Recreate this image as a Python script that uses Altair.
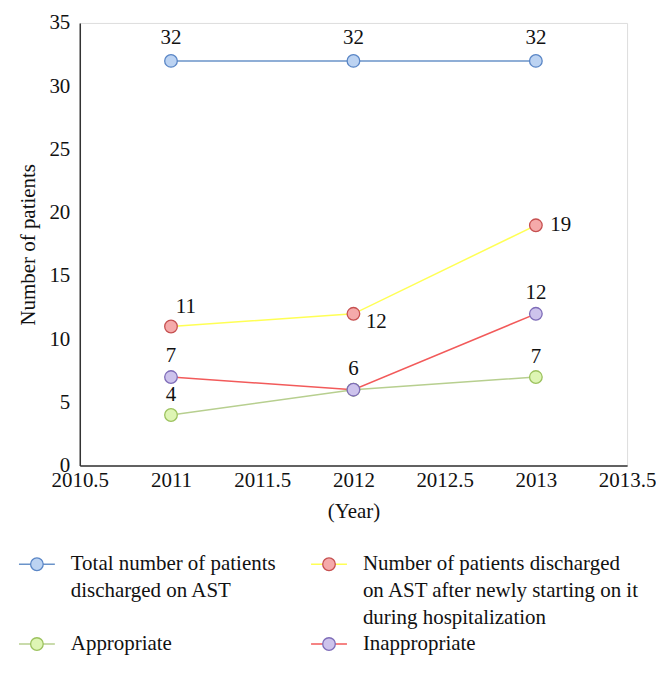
import altair as alt
import pandas as pd

years = [2011, 2012, 2013]
series = [
    "Total number of patients discharged on AST",
    "Number of patients discharged on AST after newly starting on it during hospitalization",
    "Appropriate",
    "Inappropriate",
]
total = [32, 32, 32]
newly = [11, 12, 19]
appropriate = [4, 6, 7]
inappropriate = [7, 6, 12]

legend_lines = [
    "Total number of patients\ndischarged on AST",
    "Number of patients discharged\non AST after newly starting on it\nduring hospitalization",
    "Appropriate",
    "Inappropriate",
]
legend_col = [0, 1, 0, 1]
legend_row = [0, 0, 1, 1]

line_colors = ["#6a93c9", "#ffff55", "#b7cf8f", "#f25a5a"]
marker_fills = ["#bcd3f2", "#f5aaaa", "#def5b4", "#cdc3ec"]
marker_strokes = ["#5a86c6", "#c65050", "#9cc25e", "#7e6cb8"]

FONT = "Liberation Serif, Times New Roman, serif"
FS = 21

rows = []
for name, vals in zip(series, [total, newly, appropriate, inappropriate]):
    for y, v in zip(years, vals):
        rows.append({"series": name, "year": y, "value": v})
df = pd.DataFrame(rows)

leg = pd.DataFrame({"series": series, "text": legend_lines, "col": legend_col, "row": legend_row})

line_scale = alt.Scale(domain=series, range=line_colors)
fill_scale = alt.Scale(domain=series, range=marker_fills)
stroke_scale = alt.Scale(domain=series, range=marker_strokes)

x_enc = alt.X(
    "year:Q",
    scale=alt.Scale(domain=[2010.5, 2013.5], nice=False, zero=False),
    axis=alt.Axis(
        values=[2010.5, 2011, 2011.5, 2012, 2012.5, 2013, 2013.5],
        format="~f", title="(Year)", grid=False, ticks=False,
        domainColor="#333333", domainWidth=1.5, labelPadding=4, titlePadding=10,
        labelFontSize=FS, titleFontSize=FS, labelFont=FONT, titleFont=FONT,
        titleFontWeight="normal", labelColor="#111111", titleColor="#111111",
        labelFlush=False, labelOverlap=False,
    ),
)
y_enc = alt.Y(
    "value:Q",
    scale=alt.Scale(domain=[0, 35], nice=False),
    axis=alt.Axis(
        values=[0, 5, 10, 15, 20, 25, 30, 35], title="Number of patients",
        grid=False, ticks=False, domainColor="#333333", domainWidth=1.5,
        labelPadding=10, titlePadding=10, labelFontSize=FS, titleFontSize=FS,
        labelFont=FONT, titleFont=FONT, titleFontWeight="normal",
        labelColor="#111111", titleColor="#111111", labelOverlap=False,
    ),
)

base = alt.Chart(df)

lines = base.mark_line(strokeWidth=1.5).encode(
    x=x_enc, y=y_enc,
    color=alt.Color("series:N", scale=line_scale, legend=None),
    detail="series:N",
)
points = base.mark_point(shape="circle", filled=True, size=160, strokeWidth=1.3, opacity=1).encode(
    x="year:Q", y="value:Q",
    fill=alt.Fill("series:N", scale=fill_scale, legend=None),
    stroke=alt.Stroke("series:N", scale=stroke_scale, legend=None),
)


def label_layer(filt, dx, dy):
    return base.transform_filter(filt).mark_text(
        dx=dx, dy=dy, font=FONT, fontSize=FS, color="#111111", align="center", baseline="middle"
    ).encode(x="year:Q", y="value:Q", text="value:Q")


lab_total = label_layer(alt.datum.series == series[0], 0, -23)
lab_inapp = label_layer(alt.datum.series == series[3], 0, -21)
lab_app = label_layer((alt.datum.series == series[2]) & (alt.datum.year != 2012), 0, -20)
lab_new1 = label_layer((alt.datum.series == series[1]) & (alt.datum.year == 2011), 15, -20)
lab_new2 = label_layer((alt.datum.series == series[1]) & (alt.datum.year == 2012), 23, 8)
lab_new3 = label_layer((alt.datum.series == series[1]) & (alt.datum.year == 2013), 25, 0)

main = alt.layer(lines, points, lab_total, lab_inapp, lab_app, lab_new1, lab_new2, lab_new3)

lx = alt.X("col:Q", scale=alt.Scale(domain=[0, 1], range=[-43, 250]), axis=None)
ly = alt.Y("row:Q", scale=alt.Scale(domain=[0, 1], range=[543, 623]), axis=None)
lbase = alt.Chart(leg)
leg_line = lbase.mark_point(shape="M-1,0L1,0", size=1296, strokeWidth=1.5, filled=False, opacity=1).encode(
    x=lx, y=ly, stroke=alt.Stroke("series:N", scale=line_scale, legend=None)
)
leg_pt = lbase.mark_point(shape="circle", filled=True, size=160, strokeWidth=1.3, opacity=1).encode(
    x=lx, y=ly,
    fill=alt.Fill("series:N", scale=fill_scale, legend=None),
    stroke=alt.Stroke("series:N", scale=stroke_scale, legend=None),
)
leg_text = lbase.mark_text(
    align="left", baseline="top", dx=34, dy=-11, font=FONT, fontSize=21,
    lineHeight=27, lineBreak="\n", color="#111111",
).encode(x=lx, y=ly, text="text:N")
legend = alt.layer(leg_line, leg_pt, leg_text).resolve_scale(stroke="independent")

chart = alt.layer(main, legend).resolve_scale(x="independent", y="independent").properties(
    width=549, height=444,
    padding={"left": 8, "top": 3, "right": 0, "bottom": 0},
).configure_view(stroke="#444444", strokeWidth=1).configure(background="white")

chart.save("out.html", embed_options={"renderer": "svg", "actions": False})
